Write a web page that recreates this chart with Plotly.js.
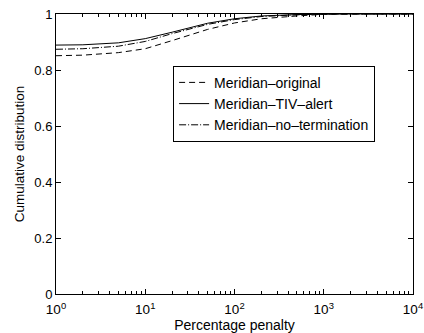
<!DOCTYPE html>
<html>
<head>
<meta charset="utf-8">
<script src="https://cdn.plot.ly/plotly-3.0.1.min.js"></script>
<style>
  html, body { margin: 0; padding: 0; background: #fff; }
  #chart { width: 424px; height: 333px; }
</style>
</head>
<body>
<div id="chart"></div>
<script>
// Percentage penalty sample points (log scale)
const penalty = [1, 2, 5, 10, 20, 50, 100, 200, 500, 1000, 2000, 5000, 10000];

// Cumulative distribution for each Meridian variant
const meridianOriginal      = [0.851, 0.853, 0.862, 0.876, 0.905, 0.945, 0.968, 0.983, 0.993, 0.999, 1.0, 1.0, 1.0];
const meridianTivAlert      = [0.889, 0.890, 0.897, 0.912, 0.935, 0.967, 0.983, 0.993, 0.998, 1.0, 1.0, 1.0, 1.0];
const meridianNoTermination = [0.874, 0.876, 0.885, 0.902, 0.930, 0.963, 0.980, 0.991, 0.997, 1.0, 1.0, 1.0, 1.0];

const seriesNames = ['Meridian\u2013original', 'Meridian\u2013TIV\u2013alert', 'Meridian\u2013no\u2013termination'];
const seriesData = [meridianOriginal, meridianTivAlert, meridianNoTermination];
// Short dashes, solid, and dash-dot patterns
const seriesDash = ['6px,4px', 'solid', '7px,2px,1px,2px'];

// Decade tick labels
const xTickVals = [1, 10, 100, 1000, 10000];
const xTickText = ['10<sup>0</sup>', '10<sup>1</sup>', '10<sup>2</sup>', '10<sup>3</sup>', '10<sup>4</sup>'];

// Minor ticks at 2..9 within each decade
const xMinorVals = [];
for (let d = 0; d < 4; d++) {
  for (let k = 2; k <= 9; k++) xMinorVals.push(k * Math.pow(10, d));
}

const traces = seriesData.map((ys, i) => ({
  x: penalty,
  y: ys,
  name: seriesNames[i],
  type: 'scatter',
  mode: 'lines',
  line: { color: '#000', width: 1, dash: seriesDash[i] }
}));

const fontFamily = '"Liberation Sans", Arial, Helvetica, sans-serif';

const layout = {
  width: 424,
  height: 333,
  margin: { l: 56, r: 11, t: 14, b: 39 },
  paper_bgcolor: '#fff',
  plot_bgcolor: '#fff',
  font: { family: fontFamily, size: 12, color: '#000' },
  showlegend: true,
  legend: {
    x: 0.328, y: 0.815, xanchor: 'left', yanchor: 'top',
    bordercolor: '#000', borderwidth: 1, bgcolor: '#fff',
    font: { family: fontFamily, size: 14, color: '#000' },
    tracegroupgap: 0
  },
  xaxis: {
    type: 'log',
    range: [0, 4],
    tickmode: 'array',
    tickvals: xTickVals,
    ticktext: xTickText,
    showgrid: false,
    zeroline: false,
    showline: true,
    linecolor: '#000',
    linewidth: 1,
    mirror: 'ticks',
    ticks: 'inside',
    ticklen: 5,
    tickcolor: '#000',
    ticklabelstandoff: 3,
    ticklabeloverflow: 'allow',
    minor: { tickmode: 'array', tickvals: xMinorVals, ticks: 'inside', ticklen: 3, tickcolor: '#000', showgrid: false },
    tickfont: { family: fontFamily, size: 13.5, color: '#000' },
    title: { text: 'Percentage penalty', font: { family: fontFamily, size: 14, color: '#000' }, standoff: 0 }
  },
  yaxis: {
    range: [0, 1],
    dtick: 0.2,
    showgrid: false,
    zeroline: false,
    showline: true,
    linecolor: '#000',
    linewidth: 1,
    mirror: 'ticks',
    ticks: 'inside',
    ticklen: 5,
    tickcolor: '#000',
    tickfont: { family: fontFamily, size: 13, color: '#000' },
    title: { text: 'Cumulative distribution', font: { family: fontFamily, size: 13.5, color: '#000' }, standoff: 6 }
  }
};

Plotly.newPlot('chart', traces, layout, { displayModeBar: false, staticPlot: true });
</script>
</body>
</html>
